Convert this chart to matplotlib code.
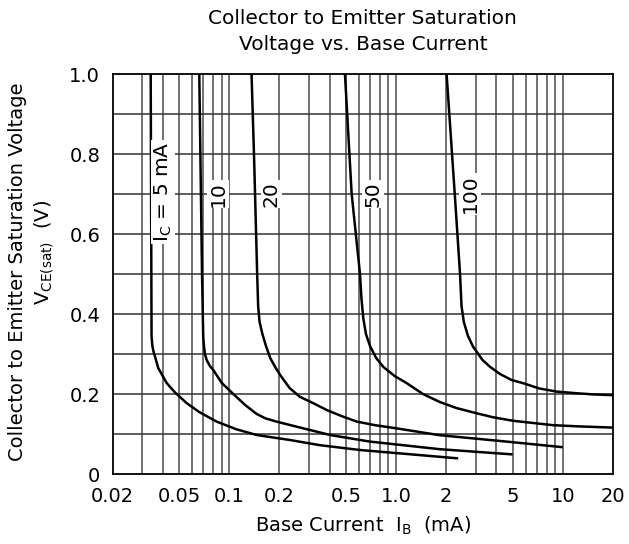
#!/usr/bin/env python3
"""Collector to emitter saturation voltage vs. base current"""

import numpy as np
import matplotlib
matplotlib.use('Agg')
import matplotlib.pyplot as plt
from matplotlib.ticker import FixedLocator, NullFormatter

##########################################################
# curves, IB in mA, VCE(sat) in V
ib_5 = [0.0338, 0.0342, 0.0346, 0.0352, 0.0359, 0.0375, 0.0422, 0.047, 0.0556, 0.066,
        0.084, 0.11, 0.146, 0.231, 0.35, 0.608, 1.83, 2.36]
v_5 = [1.0, 0.343, 0.32, 0.305, 0.293, 0.265, 0.227, 0.205, 0.177, 0.155,
       0.131, 0.112, 0.0975, 0.085, 0.072, 0.06, 0.043, 0.039]

ib_10 = [0.0661, 0.0686, 0.0698, 0.0705, 0.0715, 0.0732, 0.0765, 0.0802, 0.090, 0.1057,
         0.125, 0.146, 0.165, 0.192, 0.231, 0.402, 0.698, 1.83, 5.0]
v_10 = [1.0, 0.51, 0.343, 0.32, 0.30, 0.285, 0.27, 0.26, 0.228, 0.20,
        0.172, 0.150, 0.139, 0.131, 0.1225, 0.0975, 0.081, 0.062, 0.049]

ib_20 = [0.136, 0.141, 0.147, 0.149, 0.152, 0.158, 0.166, 0.176, 0.19, 0.203, 0.23, 0.265,
         0.319, 0.384, 0.47, 0.581, 0.75, 1.01, 1.83, 4.6, 10.0]
v_20 = [1.0, 0.785, 0.50, 0.42, 0.38, 0.35, 0.32, 0.29, 0.265, 0.246, 0.215, 0.193,
        0.177, 0.16, 0.145, 0.131, 0.122, 0.114, 0.097, 0.081, 0.067]

ib_50 = [0.494, 0.542, 0.608, 0.62, 0.636, 0.66, 0.698, 0.76, 0.838, 0.98, 1.16, 1.45,
         1.83, 2.3, 2.9, 3.8, 5.04, 8.77, 12.5, 20.0]
v_50 = [1.0, 0.70, 0.50, 0.44, 0.39, 0.35, 0.32, 0.29, 0.268, 0.245, 0.227, 0.20,
        0.18, 0.165, 0.154, 0.142, 0.133, 0.122, 0.119, 0.116]

ib_100 = [2.01, 2.25, 2.42, 2.47, 2.55, 2.7, 2.9, 3.3, 3.66, 4.2, 4.93, 5.79, 7.2, 9.18,
          12.0, 15.2, 20.0]
v_100 = [1.0, 0.70, 0.50, 0.42, 0.38, 0.345, 0.318, 0.285, 0.268, 0.25, 0.235, 0.227, 0.214,
         0.206, 0.202, 0.199, 0.197]

curve_labels = [r'$\mathrm{I_C}$ = 5 mA', '10', '20', '50', '100']
label_ib = [0.0401, 0.086, 0.179, 0.731, 2.77]
label_v = [0.705, 0.70, 0.70, 0.70, 0.70]

xticks = [0.02, 0.05, 0.1, 0.2, 0.5, 1.0, 2, 5, 10, 20]
xticklabels = ['0.02', '0.05', '0.1', '0.2', '0.5', '1.0', '2', '5', '10', '20']
yticks = [0, 0.2, 0.4, 0.6, 0.8, 1.0]
yticklabels = ['0', '0.2', '0.4', '0.6', '0.8', '1.0']

##########################################################
def main():
    plt.rcParams['font.family'] = ['DejaVu Sans']
    plt.rcParams['mathtext.fontset'] = 'dejavusans'
    fig = plt.figure(figsize=(6.29, 5.44), dpi=100)
    ax = fig.add_axes([112.7 / 629, 1 - 474 / 544, 500.3 / 629, 400 / 544])

    ax.set_xscale('log')
    ax.set_xlim(0.02, 20)
    ax.set_ylim(0, 1.0)

    # grid: every 1..9 of each decade, every 0.1 V
    vgrid = [m * 10.0 ** e for e in range(-2, 2) for m in range(1, 10)]
    vgrid = [g for g in vgrid if 0.02 < g < 20]
    for g in vgrid:
        ax.axvline(g, color='#4a4a4a', lw=1.1, zorder=1)
    for h in np.arange(0.1, 1.0, 0.1):
        ax.axhline(h, color='#333333', lw=1.1, zorder=1)

    for ib, v in [(ib_5, v_5), (ib_10, v_10), (ib_20, v_20), (ib_50, v_50), (ib_100, v_100)]:
        ax.plot(ib, v, color='black', lw=1.8, zorder=3, solid_capstyle='butt',
                solid_joinstyle='round')

    for txt, x, y in zip(curve_labels, label_ib, label_v):
        ax.text(x, y, txt, rotation=90, ha='center', va='center', fontsize=14.5,
                zorder=4, bbox=dict(facecolor='white', edgecolor='none', pad=1.0))

    ax.xaxis.set_major_locator(FixedLocator(xticks))
    ax.xaxis.set_minor_locator(FixedLocator([]))
    ax.xaxis.set_minor_formatter(NullFormatter())
    ax.set_xticklabels(xticklabels)
    ax.set_yticks(yticks)
    ax.set_yticklabels(yticklabels)
    ax.tick_params(axis='both', which='both', length=0, labelsize=14)
    ax.tick_params(axis='x', pad=9)
    ax.tick_params(axis='y', pad=9)
    for s in ax.spines.values():
        s.set_linewidth(1.3)
        s.set_zorder(5)

    fig.text(0.577, 1 - 19 / 544, 'Collector to Emitter Saturation', ha='center', va='center', fontsize=14.5)
    fig.text(0.577, 1 - 45 / 544, 'Voltage vs. Base Current', ha='center', va='center', fontsize=14.5)
    fig.text(0.577, 1 - 526 / 544, r'Base Current  $\mathrm{I_B}$  (mA)', ha='center', va='center', fontsize=14)
    fig.text(18 / 629, 1 - 272 / 544, 'Collector to Emitter Saturation Voltage', rotation=90,
             ha='center', va='center', fontsize=14)
    fig.text(44 / 629, 1 - 252 / 544, r'$\mathrm{V_{CE(sat)}}$  (V)', rotation=90,
             ha='center', va='center', fontsize=14)

    fig.savefig('out.png', dpi=100)

##########################################################
if __name__ == "__main__":
    main()
